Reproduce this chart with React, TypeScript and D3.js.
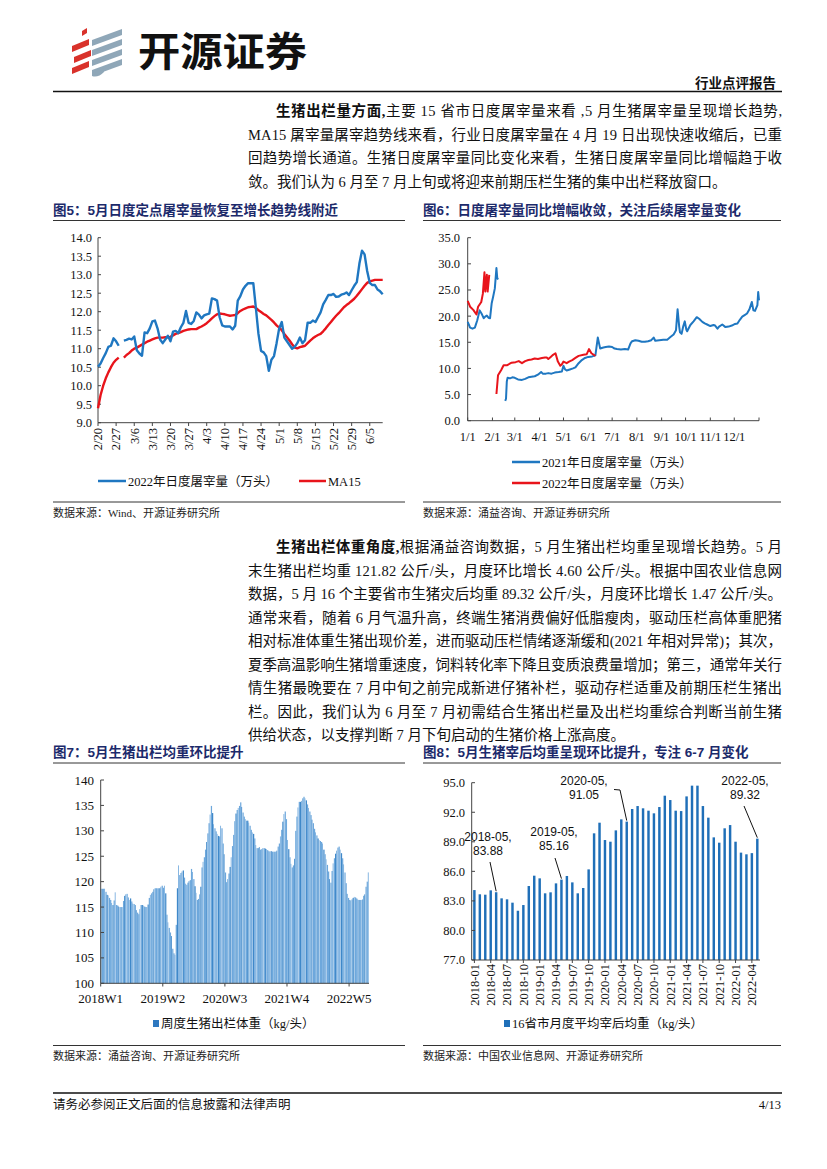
import React from 'react';
import * as d3 from 'd3';

// ---------- DATA ----------
const c5Labels = ['2/20','2/27','3/6','3/13','3/20','3/27','4/3','4/10','4/17','4/24','5/1','5/8','5/15','5/22','5/29','6/5'];
const c5Daily2022: (number | null)[] = [10.51,10.60,10.75,10.88,11.05,11.08,11.28,11.20,11.08,null,
11.22,11.24,11.27,11.25,11.33,10.96,10.87,10.81,11.44,11.42,
11.55,11.74,11.76,11.55,11.25,11.15,11.25,11.35,11.20,11.46,
11.48,11.42,11.58,11.70,12.02,11.70,11.67,11.75,11.98,11.92,
11.82,11.90,11.93,11.95,12.36,12.34,12.30,11.85,11.63,11.60,
11.60,11.60,11.52,11.62,12.30,12.42,12.60,12.70,12.77,12.77,
12.77,12.10,11.40,10.94,10.90,10.80,10.40,10.70,10.80,11.15,
11.55,11.72,11.30,11.20,11.10,11.00,11.05,11.15,11.30,11.15,
11.23,11.70,11.70,11.76,11.72,11.85,11.98,12.20,12.32,12.45,
12.45,12.48,12.40,12.41,12.46,12.48,12.52,12.45,12.58,12.70,
12.80,13.30,13.65,13.55,13.10,12.78,12.72,12.72,12.60,12.55,12.47];
const c5MA15: (number | null)[] = [9.39,9.75,10.00,10.20,10.36,10.50,10.62,10.70,10.76,null,
10.76,10.83,10.88,10.95,11.00,11.03,11.07,11.11,11.15,11.19,
11.22,11.25,11.28,11.30,11.30,11.30,11.31,11.31,11.32,11.36,
11.40,11.42,11.45,11.48,11.50,11.52,11.53,11.53,11.53,11.57,
11.60,11.64,11.69,11.75,11.82,11.88,11.93,11.95,11.94,11.93,
11.91,11.89,11.90,11.91,11.96,12.02,12.06,12.09,12.12,12.13,
12.14,12.10,12.04,11.99,11.94,11.90,11.84,11.78,11.71,11.63,
11.57,11.50,11.40,11.31,11.22,11.12,11.03,11.01,11.04,11.06,
11.08,11.15,11.22,11.28,11.33,11.37,11.40,11.47,11.55,11.64,
11.72,11.81,11.89,11.96,12.04,12.12,12.18,12.23,12.29,12.35,
12.43,12.52,12.61,12.70,12.78,12.82,12.84,12.86,12.86,12.86,12.86];
const c5YTicks = [9.0,9.5,10.0,10.5,11.0,11.5,12.0,12.5,13.0,13.5,14.0];

const c6MonthLabels = ['1/1','2/1','3/1','4/1','5/1','6/1','7/1','8/1','9/1','10/1','11/1','12/1'];
const c6MonthDays = [0,31,59,90,120,151,181,212,243,273,304,334];
const c6Series2021: [number, number | null][] = [
[0,18.9],[3,17.8],[6,17.6],[9,17.8],[12,19.2],[15,21.1],[18,20.3],[20,19.6],[22,19.9],[24,20.1],[26,19.7],[28,19.6],[30,22.4],[32,23.8],[34,25.3],[36,29.2],[37,27.3],[38,27.0],
[42,null],
[47,3.8],[48,4.2],[49,7.5],[50,8.2],[53,8.1],[56,8.3],[59,8.2],[63,7.9],[68,7.8],[72,8.0],[76,8.3],[80,8.4],[84,8.5],[88,8.8],[92,9.3],[94,9.0],[98,9.0],[101,9.1],[105,9.0],[109,9.2],[114,9.3],[118,9.4],[120,10.5],[122,9.8],[124,9.6],[128,9.8],[132,10.0],[135,10.2],[139,11.0],[143,11.6],[147,12.0],[151,12.2],[156,12.3],[160,12.5],[163,15.9],[165,14.5],[166,13.8],[170,14.0],[173,14.1],[177,14.2],[181,14.1],[184,13.8],[187,13.7],[192,13.6],[197,13.7],[201,13.6],[204,14.8],[206,15.2],[210,15.4],[214,15.3],[218,15.1],[222,15.1],[226,15.2],[230,15.4],[233,15.9],[235,15.3],[240,15.4],[245,15.5],[250,15.5],[254,16.0],[258,16.5],[261,17.3],[263,21.3],[265,18.0],[266,16.9],[268,16.6],[270,18.0],[272,19.0],[274,17.4],[275,17.1],[279,18.3],[283,19.0],[287,19.8],[290,19.5],[294,18.9],[297,18.6],[300,18.4],[304,18.1],[308,18.3],[310,18.2],[313,17.6],[315,18.0],[319,18.4],[323,17.9],[327,18.0],[331,18.2],[335,18.5],[338,18.6],[341,19.3],[344,19.9],[347,20.2],[350,20.5],[353,21.3],[356,22.7],[358,21.1],[360,21.0],[363,22.1],[364,24.6],[365,23.0]];
const c6Series2022: [number, number | null][] = [
[0,22.9],[3,21.8],[7,21.2],[11,20.3],[13,21.8],[17,22.7],[19,24.3],[21,28.4],[22,24.7],[24,27.9],[25,24.7],[27,27.9],
[31,null],
[36,5.1],[38,8.7],[42,9.7],[45,10.6],[49,10.6],[55,11.1],[60,11.2],[64,11.4],[68,11.0],[72,11.4],[76,11.6],[80,11.7],[84,11.9],[88,11.8],[93,12.0],[97,12.1],[99,12.1],[101,11.8],[104,12.2],[107,12.6],[110,12.9],[113,11.3],[116,10.5],[118,10.8],[120,11.3],[124,11.0],[127,11.3],[131,11.6],[135,12.0],[139,12.4],[145,12.6],[149,12.7],[152,13.7],[155,12.9],[160,12.4]];
const c6YTicks = [0,5,10,15,20,25,30,35];

const c7Labels = ['2018W1','2019W2','2020W3','2021W4','2022W5'];
const c7LabelIndex = [0,53,106,159,212];
const c7Weekly = [
118.6,118.6,118.6,118.6,118.0,117.4,117.3,116.8,116.4,115.8,
115.4,116.3,117.9,115.4,115.3,115.1,115.0,115.0,115.0,116.2,
117.2,117.5,117.6,116.9,116.4,116.7,116.1,115.7,115.6,115.4,
114.4,113.9,113.6,114.6,115.4,115.4,115.3,115.1,115.0,115.0,
115.5,116.8,117.4,117.7,118.0,118.5,118.7,118.7,118.7,118.7,
118.7,119.0,119.2,118.8,119.2,117.7,113.5,112.0,110.9,110.0,
109.3,106.8,105.9,105.6,111.5,118.7,123.2,121.3,121.7,122.0,
122.2,120.8,119.6,119.4,119.8,120.1,120.3,122.5,121.9,120.5,
119.1,117.8,116.4,116.6,117.5,119.0,122.8,123.9,124.8,126.3,
127.8,129.5,131.5,133.2,134.9,133.5,131.3,130.5,129.9,129.4,
129.0,128.9,131.0,130.5,127.5,125.4,121.8,119.9,120.5,121.6,
122.9,124.8,127.0,129.2,131.9,133.4,134.1,134.5,134.9,135.6,
134.7,133.6,132.8,132.3,132.0,132.0,131.6,131.0,130.2,129.7,
129.4,128.5,127.2,126.6,126.6,126.8,126.3,126.4,126.6,126.6,
126.5,126.4,126.2,126.0,125.9,126.0,125.9,125.9,125.9,125.9,
126.1,126.9,127.5,128.9,130.2,131.8,133.3,133.8,132.3,128.2,
126.4,124.8,123.5,122.8,123.2,124.5,130.0,132.8,134.6,135.7,
135.7,135.9,136.4,136.7,136.4,136.0,135.2,134.5,133.8,133.1,
132.2,131.5,130.4,129.7,129.1,128.5,128.2,128.0,127.8,127.5,
126.3,125.4,124.4,123.3,122.0,120.5,119.8,122.1,123.6,124.6,
125.5,126.1,126.7,126.9,126.3,125.6,124.6,123.4,121.8,119.7,
117.6,116.8,116.4,116.3,116.5,116.8,117.0,116.9,116.7,116.5,
116.4,116.4,116.4,116.5,117.22,117.5,119.0,120.0,121.82];
const c7YTicks = [100,105,110,115,120,125,130,135,140];

const c8Months = d3.range(53).map(i => {
  const y = 2018 + Math.floor(i / 12);
  const m = (i % 12) + 1;
  return `${y}-${m < 10 ? '0' + m : m}`;
});
const c8Values = [
84.10,83.67,83.63,84.07,83.88,83.26,83.16,82.82,82.00,82.58,84.51,85.56,
85.29,83.77,83.87,84.78,85.16,85.53,84.88,83.77,84.31,86.20,89.86,90.94,
89.18,89.01,90.16,91.28,91.05,92.33,92.63,92.40,92.16,91.89,92.53,93.68,
93.24,92.16,92.12,93.61,94.70,94.70,92.63,91.45,89.45,88.91,90.37,90.70,
89.01,87.90,87.73,87.85,89.32];
const c8YTicks = [77,80,83,86,89,92,95];
const c8Annotated = ['2018-05','2019-05','2020-05','2022-05'];

// ---------- STYLE ----------
const SERIF = "'Liberation Serif','Times New Roman','Noto Sans CJK SC',serif";
const SANS = "'Liberation Sans','Noto Sans CJK SC',sans-serif";
const TITLE_COLOR = '#1c2a6b';
const BLUE = '#1f77c1';
const RED = '#e8141b';

const para1 = [
  { bold: '生猪出栏量方面,', text: '主要 15 省市日度屠宰量来看 ,5 月生猪屠宰量呈现增长趋势,', x: 276, full: true },
  { bold: '', text: 'MA15 屠宰量屠宰趋势线来看，行业日度屠宰量在 4 月 19 日出现快速收缩后，已重', x: 248, full: true },
  { bold: '', text: '回趋势增长通道。生猪日度屠宰量同比变化来看，生猪日度屠宰量同比增幅趋于收', x: 248, full: true },
  { bold: '', text: '敛。我们认为 6 月至 7 月上旬或将迎来前期压栏生猪的集中出栏释放窗口。', x: 248, full: false },
];
const para2 = [
  { bold: '生猪出栏体重角度,', text: '根据涌益咨询数据，5 月生猪出栏均重呈现增长趋势。5 月', x: 276, full: true },
  { bold: '', text: '末生猪出栏均重 121.82 公斤/头，月度环比增长 4.60 公斤/头。根据中国农业信息网', x: 248, full: true },
  { bold: '', text: '数据，5 月 16 个主要省市生猪灾后均重 89.32 公斤/头，月度环比增长 1.47 公斤/头。', x: 248, full: true },
  { bold: '', text: '通常来看，随着 6 月气温升高，终端生猪消费偏好低脂瘦肉，驱动压栏高体重肥猪', x: 248, full: true },
  { bold: '', text: '相对标准体重生猪出现价差，进而驱动压栏情绪逐渐缓和(2021 年相对异常)；其次，', x: 248, full: true },
  { bold: '', text: '夏季高温影响生猪增重速度，饲料转化率下降且变质浪费量增加；第三，通常年关行', x: 248, full: true },
  { bold: '', text: '情生猪最晚要在 7 月中旬之前完成新进仔猪补栏，驱动存栏适重及前期压栏生猪出', x: 248, full: true },
  { bold: '', text: '栏。因此，我们认为 6 月至 7 月初需结合生猪出栏量及出栏均重综合判断当前生猪', x: 248, full: true },
  { bold: '', text: '供给状态，以支撑判断 7 月下旬启动的生猪价格上涨高度。', x: 248, full: false },
];

function Paragraph({ lines, y0, step }: { lines: typeof para1; y0: number; step: number }) {
  return (
    <g fontFamily={SERIF} fontSize={14.5} fill="#111">
      {lines.map((l, i) => (
        <text key={i} x={l.x} y={y0 + i * step}
          textLength={l.full ? 782 - l.x : undefined}
          lengthAdjust={l.full ? 'spacing' : undefined}>
          {l.bold ? <tspan fontWeight="bold">{l.bold}</tspan> : null}
          <tspan>{l.text}</tspan>
        </text>
      ))}
    </g>
  );
}

function Chart5() {
  const x = d3.scaleLinear().domain([0, 110]).range([98, 382.7]);
  const y = d3.scaleLinear().domain([9, 14]).range([422.7, 237.7]);
  const line = d3.line<number | null>()
    .defined(d => d !== null)
    .x((_, i) => x(i))
    .y(d => y(d as number));
  return (
    <g>
      <text x={53} y={215} fontFamily={SANS} fontWeight="bold" fontSize={13.5} fill={TITLE_COLOR}>图5：5月日度定点屠宰量恢复至增长趋势线附近</text>
      <line x1={53} x2={405} y1={220.5} y2={220.5} stroke="#333" strokeWidth={1} />
      {c5YTicks.map(t => (
        <g key={t}>
          <line x1={98} x2={101} y1={y(t)} y2={y(t)} stroke="#444" />
          <text x={92} y={y(t)} dy="0.35em" textAnchor="end" fontFamily={SERIF} fontSize={12.5} fill="#111">{t.toFixed(1)}</text>
        </g>
      ))}
      <line x1={98} x2={98} y1={237.7} y2={422.7} stroke="#444" />
      <line x1={98} x2={382.7} y1={422.7} y2={422.7} stroke="#444" />
      {c5Labels.map((l, i) => (
        <g key={l}>
          <line x1={x(i * 7)} x2={x(i * 7)} y1={422.7} y2={426} stroke="#444" />
          <text transform={`translate(${x(i * 7)},${428}) rotate(-90)`} dy="0.35em" textAnchor="end" fontFamily={SERIF} fontSize={12.5} fill="#111">{l}</text>
        </g>
      ))}
      <path d={line(c5MA15) || ''} fill="none" stroke={RED} strokeWidth={2.4} strokeLinejoin="round" />
      <path d={line(c5Daily2022) || ''} fill="none" stroke={BLUE} strokeWidth={2.4} strokeLinejoin="round" />
      <line x1={98} x2={126} y1={481} y2={481} stroke={BLUE} strokeWidth={2.5} />
      <text x={128} y={485.5} fontFamily={SERIF} fontSize={12.5} fill="#111">2022年日度屠宰量（万头）</text>
      <line x1={299} x2={326} y1={481} y2={481} stroke={RED} strokeWidth={2.5} />
      <text x={328} y={485.5} fontFamily={SERIF} fontSize={12.5} fill="#111">MA15</text>
      <line x1={53} x2={405} y1={502} y2={502} stroke="#333" strokeWidth={1} />
      <text x={53} y={517} fontFamily={SERIF} fontSize={11} fill="#222">数据来源：Wind、开源证券研究所</text>
    </g>
  );
}

function Chart6() {
  const x = d3.scaleLinear().domain([0, 365]).range([467.7, 759]);
  const y = d3.scaleLinear().domain([0, 35]).range([420.7, 237.7]);
  const line = d3.line<[number, number | null]>()
    .defined(d => d[1] !== null)
    .x(d => x(d[0]))
    .y(d => y(d[1] as number));
  return (
    <g>
      <text x={423} y={215} fontFamily={SANS} fontWeight="bold" fontSize={13.5} fill={TITLE_COLOR}>图6：日度屠宰量同比增幅收敛，关注后续屠宰量变化</text>
      <line x1={423} x2={781} y1={220.5} y2={220.5} stroke="#333" strokeWidth={1} />
      {c6YTicks.map(t => (
        <g key={t}>
          <line x1={467.7} x2={471} y1={y(t)} y2={y(t)} stroke="#444" />
          <text x={460} y={y(t)} dy="0.35em" textAnchor="end" fontFamily={SERIF} fontSize={12.5} fill="#111">{t.toFixed(1)}</text>
        </g>
      ))}
      <line x1={467.7} x2={467.7} y1={237.7} y2={420.7} stroke="#444" />
      <line x1={467.7} x2={759} y1={420.7} y2={420.7} stroke="#444" />
      <line x1={759} x2={759} y1={420.7} y2={417.5} stroke="#444" />
      {c6MonthLabels.map((l, i) => (
        <g key={l}>
          <line x1={x(c6MonthDays[i])} x2={x(c6MonthDays[i])} y1={420.7} y2={417.5} stroke="#444" />
          <text x={x(c6MonthDays[i])} y={437} dy="0.35em" textAnchor="middle" fontFamily={SERIF} fontSize={12.5} fill="#111">{l}</text>
        </g>
      ))}
      <path d={line(c6Series2021) || ''} fill="none" stroke={BLUE} strokeWidth={2} strokeLinejoin="round" />
      <path d={line(c6Series2022) || ''} fill="none" stroke={RED} strokeWidth={2} strokeLinejoin="round" />
      <line x1={512} x2={540} y1={462} y2={462} stroke={BLUE} strokeWidth={2.5} />
      <text x={542} y={466.5} fontFamily={SERIF} fontSize={12.5} fill="#111">2021年日度屠宰量（万头）</text>
      <line x1={512} x2={540} y1={483} y2={483} stroke={RED} strokeWidth={2.5} />
      <text x={542} y={487.5} fontFamily={SERIF} fontSize={12.5} fill="#111">2022年日度屠宰量（万头）</text>
      <line x1={423} x2={781} y1={502} y2={502} stroke="#333" strokeWidth={1} />
      <text x={423} y={517} fontFamily={SERIF} fontSize={11} fill="#222">数据来源：涌益咨询、开源证券研究所</text>
    </g>
  );
}

function Chart7() {
  const x = d3.scaleBand<number>().domain(d3.range(c7Weekly.length)).range([100.7, 369]).padding(0);
  const y = d3.scaleLinear().domain([100, 140]).range([983.3, 780]);
  return (
    <g>
      <text x={53} y={757} fontFamily={SANS} fontWeight="bold" fontSize={13.5} fill={TITLE_COLOR}>图7：5月生猪出栏均重环比提升</text>
      <line x1={53} x2={405} y1={763} y2={763} stroke="#333" strokeWidth={1} />
      {c7Weekly.map((v, i) => (
        <rect key={i} x={x(i)} y={y(v)} width={x.bandwidth() * (i % 3 === 0 ? 0.7 : 1.05)} height={983.3 - y(v)}
          fill={i % 5 === 0 ? '#3f88c9' : '#6ea8dc'} />
      ))}
      {c7YTicks.map(t => (
        <g key={t}>
          <line x1={100.7} x2={104} y1={y(t)} y2={y(t)} stroke="#444" />
          <text x={94} y={y(t)} dy="0.35em" textAnchor="end" fontFamily={SERIF} fontSize={13} fill="#111">{t}</text>
        </g>
      ))}
      <line x1={100.7} x2={100.7} y1={780} y2={983.3} stroke="#444" />
      <line x1={100.7} x2={369} y1={983.3} y2={983.3} stroke="#444" />
      {c7Labels.map((l, i) => (
        <g key={l}>
          <line x1={x(c7LabelIndex[i])} x2={x(c7LabelIndex[i])} y1={983.3} y2={986.5} stroke="#444" />
          <text x={x(c7LabelIndex[i])} y={998} dy="0.35em" textAnchor="middle" fontFamily={SERIF} fontSize={13} fill="#111">{l}</text>
        </g>
      ))}
      <rect x={153} y={1020} width={6} height={7} fill="#2e78c0" />
      <text x={161} y={1028} fontFamily={SERIF} fontSize={12.5} fill="#111">周度生猪出栏体重（kg/头）</text>
      <line x1={53} x2={405} y1={1045.5} y2={1045.5} stroke="#333" strokeWidth={1} />
      <text x={53} y={1060} fontFamily={SERIF} fontSize={11} fill="#222">数据来源：涌益咨询、开源证券研究所</text>
    </g>
  );
}

function Chart8() {
  const x = d3.scaleBand<string>().domain(c8Months).range([471.7, 760]).paddingInner(0.55).paddingOuter(0.27);
  const y = d3.scaleLinear().domain([77, 95]).range([960, 782.7]);
  const cx = (m: string) => (x(m) as number) + x.bandwidth() / 2;
  const ann = c8Annotated.map(m => ({ m, v: c8Values[c8Months.indexOf(m)] }));
  const annLayout: Record<string, { tx: number; ty: number; path: (bx: number, by: number) => string }> = {
    '2018-05': { tx: 488, ty: 841, path: (bx, by) => `M490,862 L${bx},${by - 1}` },
    '2019-05': { tx: 554, ty: 836, path: (bx, by) => `M555,858 L${bx},${by - 1}` },
    '2020-05': { tx: 584, ty: 785, path: (bx, by) => `M614,789.5 L620,790 L${bx},${by - 1}` },
    '2022-05': { tx: 745, ty: 785, path: (bx, by) => `M744,806 L${bx},${by - 1}` },
  };
  return (
    <g>
      <text x={423} y={757} fontFamily={SANS} fontWeight="bold" fontSize={13.5} fill={TITLE_COLOR}>图8：5月生猪宰后均重呈现环比提升，专注 6-7 月变化</text>
      <line x1={423} x2={781} y1={763} y2={763} stroke="#333" strokeWidth={1} />
      {c8Values.map((v, i) => (
        <rect key={i} x={x(c8Months[i])} y={y(v)} width={x.bandwidth()} height={960 - y(v)} fill="#1f6fb8" />
      ))}
      {c8YTicks.map(t => (
        <g key={t}>
          <line x1={471.7} x2={475} y1={y(t)} y2={y(t)} stroke="#444" />
          <text x={465} y={y(t)} dy="0.35em" textAnchor="end" fontFamily={SERIF} fontSize={12.5} fill="#111">{t.toFixed(1)}</text>
        </g>
      ))}
      <line x1={471.7} x2={471.7} y1={782.7} y2={960} stroke="#444" />
      <line x1={471.7} x2={760} y1={960} y2={960} stroke="#444" />
      {c8Months.map((m, i) => (i % 3 === 0 ? (
        <g key={m}>
          <line x1={cx(m)} x2={cx(m)} y1={960} y2={963} stroke="#444" />
          <text transform={`translate(${cx(m)},${964}) rotate(-90)`} dy="0.35em" textAnchor="end" fontFamily={SERIF} fontSize={12.5} fill="#111">{m}</text>
        </g>
      ) : null))}
      {ann.map(a => {
        const L = annLayout[a.m];
        const bx = cx(a.m);
        const by = y(a.v);
        return (
          <g key={a.m}>
            <path d={L.path(bx, by)} fill="none" stroke="#111" strokeWidth={1} />
            <text x={L.tx} y={L.ty} textAnchor="middle" fontFamily={SANS} fontSize={12} fill="#111">{a.m},</text>
            <text x={L.tx} y={L.ty + 14} textAnchor="middle" fontFamily={SANS} fontSize={12} fill="#111">{a.v.toFixed(2)}</text>
          </g>
        );
      })}
      <rect x={504} y={1020} width={6} height={7} fill="#1f6fb8" />
      <text x={512} y={1028} fontFamily={SERIF} fontSize={12.5} fill="#111">16省市月度平均宰后均重（kg/头）</text>
      <line x1={423} x2={781} y1={1045.5} y2={1045.5} stroke="#333" strokeWidth={1} />
      <text x={423} y={1060} fontFamily={SERIF} fontSize={11} fill="#222">数据来源：中国农业信息网、开源证券研究所</text>
    </g>
  );
}

function Header() {
  const redStripes = [0, 1, 2];
  const grayStripes = [0, 1, 2, 3];
  return (
    <g>
      <path d="M82,31 l5,-3 l0,5 l-5,3 z" fill="#d9322b" />
      {redStripes.map(i => (
        <path key={'r' + i} d={`M${72 + (i === 1 ? 2 : 0)},${46 + i * 11} l17,-7 l0,6 l-17,7 z`} fill="#d9322b" />
      ))}
      {grayStripes.map(i => (
        <path key={'g' + i} d={`M92,${40 + i * 10} l30,-11 l0,6 l-30,11 z`} fill="#8fa7b8" />
      ))}
      <path d="M92,72 q6,2 12,-4 l0,4 q-6,6 -12,4 z" fill="#8fa7b8" />
      <text x={138} y={66} fontFamily={SANS} fontWeight="bold" fontSize={40} fill="#111" textLength={169} lengthAdjust="spacingAndGlyphs">开源证券</text>
      <text x={776} y={88} textAnchor="end" fontFamily={SANS} fontWeight="bold" fontSize={13.5} fill="#111">行业点评报告</text>
      <line x1={53} x2={782} y1={91.5} y2={91.5} stroke="#111" strokeWidth={1.3} />
    </g>
  );
}

function Footer() {
  return (
    <g>
      <line x1={53} x2={782} y1={1093} y2={1093} stroke="#111" strokeWidth={1.3} />
      <text x={53} y={1109} fontFamily={SERIF} fontSize={12.5} fill="#111">请务必参阅正文后面的信息披露和法律声明</text>
      <text x={781} y={1109} textAnchor="end" fontFamily={SERIF} fontSize={12.5} fill="#111">4/13</text>
    </g>
  );
}

export default function App() {
  return (
    <svg width={827} height={1169} viewBox="0 0 827 1169"
      style={{ position: 'absolute', left: 0, top: 0, background: '#fff' }}>
      <rect x={0} y={0} width={827} height={1169} fill="#fff" />
      <Header />
      <Paragraph lines={para1} y0={116} step={23.6} />
      <Chart5 />
      <Chart6 />
      <Paragraph lines={para2} y0={552} step={23.55} />
      <Chart7 />
      <Chart8 />
      <Footer />
    </svg>
  );
}
